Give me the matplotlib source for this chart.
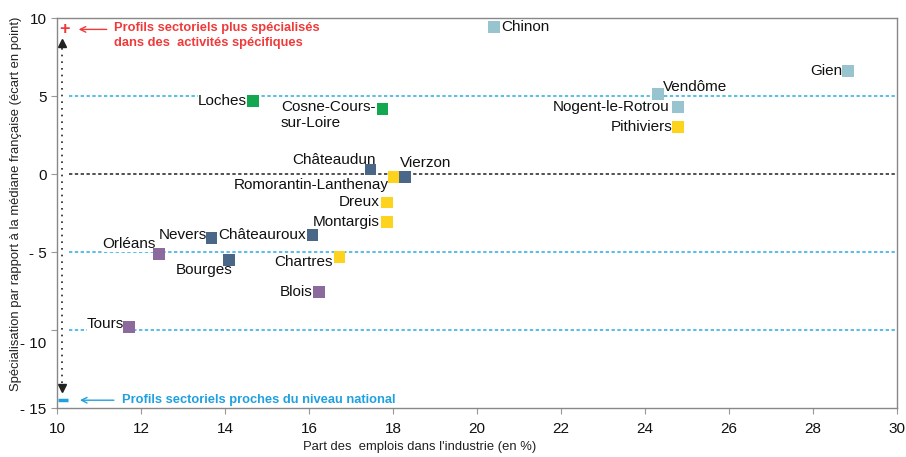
import matplotlib.pyplot as plt
import matplotlib.transforms as mtransforms

plt.rcParams["font.family"] = ["Liberation Sans", "DejaVu Sans"]

# Zones d'emploi: part de l'industrie (%) et spécialisation (écart en point)
villes = ["Chinon", "Gien", "Vendôme", "Nogent-le-Rotrou", "Pithiviers",
          "Loches", "Cosne-Cours-\nsur-Loire", "Châteaudun", "Romorantin-Lanthenay",
          "Vierzon", "Dreux", "Montargis", "Nevers", "Châteauroux", "Orléans",
          "Bourges", "Chartres", "Blois", "Tours"]
part_industrie = [20.41, 28.84, 24.31, 24.78, 24.79,
                  14.67, 17.75, 17.46, 18.02,
                  18.29, 17.85, 17.85, 13.68, 16.08, 12.43,
                  14.09, 16.73, 16.24, 11.72]
specialisation = [9.43, 6.60, 5.11, 4.28, 3.00,
                  4.69, 4.15, 0.28, -0.20,
                  -0.21, -1.82, -3.06, -4.11, -3.92, -5.14,
                  -5.53, -5.32, -7.55, -9.82]
groupe = ["teal", "teal", "teal", "teal", "jaune",
          "vert", "vert", "bleu", "jaune",
          "bleu", "jaune", "jaune", "bleu", "bleu", "violet",
          "bleu", "jaune", "violet", "violet"]

couleurs = {"teal": "#98c4cf", "vert": "#13a84f", "bleu": "#4a6787",
            "jaune": "#fdd31d", "violet": "#8c6a9e"}

# position de l'étiquette: (dx px, dy px, ha, va)
etiquettes = {
    "Chinon": (7, 0, "left", "center"),
    "Gien": (-6, 0, "right", "center"),
    "Vendôme": (5, 7, "left", "center"),
    "Nogent-le-Rotrou": (-8, 0, "right", "center"),
    "Pithiviers": (-6, 0, "right", "center"),
    "Loches": (-6, 0, "right", "center"),
    "Cosne-Cours-\nsur-Loire": (-7, 9, "right", "top"),
    "Châteaudun": (5, 3, "right", "bottom"),
    "Romorantin-Lanthenay": (-5, -1, "right", "top"),
    "Vierzon": (-5, 7, "left", "bottom"),
    "Dreux": (-7, 0, "right", "center"),
    "Montargis": (-7, 0, "right", "center"),
    "Nevers": (-5, 3, "right", "center"),
    "Châteauroux": (-6, 0, "right", "center"),
    "Orléans": (-3, 3, "right", "bottom"),
    "Bourges": (4, -3, "right", "top"),
    "Chartres": (-7, -5, "right", "center"),
    "Blois": (-7, 0, "right", "center"),
    "Tours": (-5, 3, "right", "center"),
}

fig = plt.figure(figsize=(9.06, 4.57), dpi=100)
ax = fig.add_axes([0.0629, 0.1072, 0.9272, 0.8534])

ax.set_xlim(10, 30)
ax.set_ylim(-15, 10)

# lignes de référence
for yv in [5, -5, -10]:
    ax.plot([10.28, 30], [yv, yv], color="#3bb3e6", lw=1.2, ls=(0, (2, 1.5)), zorder=1)
ax.plot([10.28, 30], [0, 0], color="#333333", lw=1.2, ls=(0, (2, 1.5)), zorder=1)

for v, x, y, g in zip(villes, part_industrie, specialisation, groupe):
    ax.scatter(x, y, s=70, marker="s", color=couleurs[g], edgecolors="none", zorder=3)
    dx, dy, ha, va = etiquettes[v]
    ax.annotate(v, (x, y), xytext=(dx * 0.72, dy * 0.72), textcoords="offset points",
                ha=ha, va=va, fontsize=11, color="#111111", zorder=2,
                multialignment="left",
                bbox=dict(facecolor="white", edgecolor="none", pad=0.3))

# flèche verticale pointillée
ax.plot([10.11, 10.11], [8.1, -13.4], color="#222222", lw=1.2, ls=(0, (1, 3)), zorder=2)
ax.plot(10.11, 8.4, marker="^", color="#222222", ms=6, zorder=2)
ax.plot(10.11, -13.7, marker="v", color="#222222", ms=6, zorder=2)

# annotations haut / bas
rouge = "#f03a3a"
bleu_txt = "#1fa0e0"
ax.text(10.17, 9.27, "+", color=rouge, fontsize=13, fontweight="bold", ha="center", va="center")
ax.annotate("", xy=(10.45, 9.27), xytext=(11.25, 9.27),
            arrowprops=dict(arrowstyle="->", color=rouge, lw=1))
ax.text(11.36, 9.27, "Profils sectoriels plus spécialisés\ndans des  activités spécifiques",
        color=rouge, fontsize=9.3, fontweight="bold", ha="left", va="top",
        transform=ax.transData + mtransforms.ScaledTranslation(0, 7.5 / 100, fig.dpi_scale_trans),
        linespacing=1.3)
ax.plot(10.14, -14.5, marker="_", color=bleu_txt, ms=7, mew=2.5, zorder=2)
ax.annotate("", xy=(10.48, -14.5), xytext=(11.42, -14.5),
            arrowprops=dict(arrowstyle="->", color=bleu_txt, lw=1))
ax.text(11.54, -14.5, "Profils sectoriels proches du niveau national",
        color=bleu_txt, fontsize=9.3, fontweight="bold", ha="left", va="center")

# axes
ax.set_xticks(range(10, 31, 2))
ax.set_yticks([10, 5, 0, -5, -10, -15])
ax.set_yticklabels(["10", "5", "0", "- 5", "- 10", "- 15"])
ax.tick_params(axis="both", labelsize=11, colors="#111111", length=4, color="#999999")
ax.tick_params(axis="x", pad=6)
# l'étiquette -10 est un peu décalée vers le bas dans l'original
lab = ax.get_yticklabels()[4]
lab.set_transform(lab.get_transform() + mtransforms.ScaledTranslation(0, -12 / 100, fig.dpi_scale_trans))

for s in ax.spines.values():
    s.set_color("#888888")
    s.set_linewidth(1)

ax.set_xlabel("Part des  emplois dans l'industrie (en %)", fontsize=9.4, color="#222222")
ax.xaxis.set_label_coords(0.432, -0.085)
ax.set_ylabel("Spécialisation par rapport à la médiane française (écart en point)",
              fontsize=9.4, color="#222222")
ax.yaxis.set_label_coords(-0.042, 0.523)

fig.savefig("out.png", dpi=100)
